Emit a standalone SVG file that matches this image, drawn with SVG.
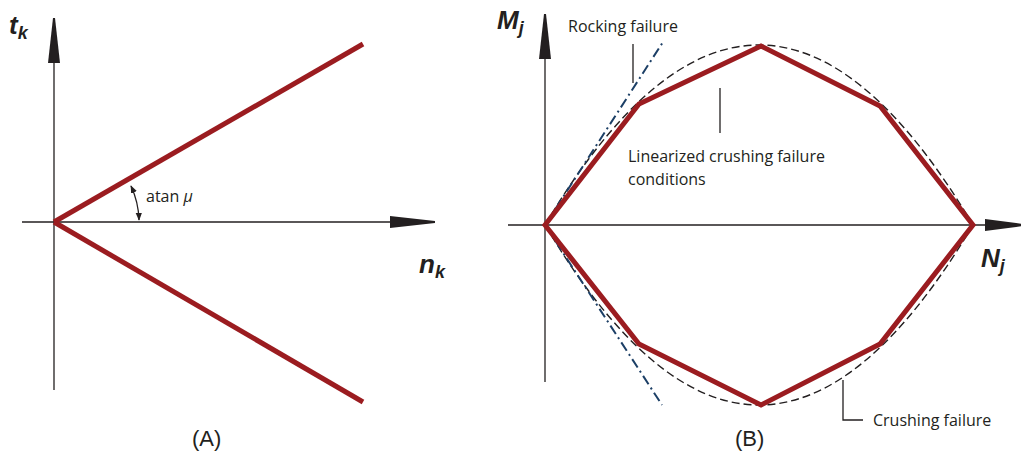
<svg xmlns="http://www.w3.org/2000/svg" width="1021" height="457" viewBox="0 0 1021 457">
<style>
.ax{stroke:#231f20;stroke-width:1.3;fill:none}
.red{stroke:#9b1c20;stroke-width:5;fill:none;stroke-linejoin:miter}
.dash{stroke:#231f20;stroke-width:1.4;fill:none;stroke-dasharray:8 4}
.dd{stroke:#1c3f66;stroke-width:2;fill:none;stroke-dasharray:10 4 2 4}
.lead{stroke:#231f20;stroke-width:1.3;fill:none}
.lbl{font-family:"Liberation Sans",Arial,sans-serif;font-weight:bold;font-style:italic;fill:#231f20}
.txt{font-family:"Open Sans","Noto Sans",sans-serif;font-size:16px;fill:#231f20}
.cap{font-family:"Liberation Sans",Arial,sans-serif;font-size:22px;fill:#231f20}
</style>
<defs>
<marker id="ah" viewBox="0 0 10 10" refX="9" refY="5" markerWidth="6" markerHeight="6" orient="auto-start-reverse">
<path d="M0,1 L10,5 L0,9 Z" fill="#231f20"/>
</marker>
</defs>
<g id="panelA">
<g id="axesA">
<line class="ax" x1="54" y1="390" x2="54" y2="60"/>
<polygon points="48,63 60,63 55,18 53,18" fill="#231f20"/>
<line class="ax" x1="22" y1="222" x2="392" y2="222"/>
<polygon points="390,216 390,228 435,223 435,221" fill="#231f20"/>
</g>
<g id="linesA">
<line class="red" x1="54" y1="222" x2="363" y2="44"/>
<line class="red" x1="54" y1="222" x2="363" y2="402"/>
</g>
<g id="angleA">
<path d="M131,186 A86,86 0 0 1 139,220" class="ax" stroke-width="1" marker-start="url(#ah)" marker-end="url(#ah)"/>
<text class="txt" x="146" y="202" font-size="15">atan <tspan font-style="italic">μ</tspan></text>
</g>
<text class="lbl" x="9" y="34" font-size="26">t<tspan font-size="18" dy="5">k</tspan></text>
<text class="lbl" x="419" y="273" font-size="26">n<tspan font-size="18" dy="5">k</tspan></text>
<text class="cap" x="192" y="446">(A)</text>
</g>
<g id="panelB">
<g id="axesB">
<line class="ax" x1="545" y1="382" x2="545" y2="56"/>
<polygon points="539,59 551,59 546,14 544,14" fill="#231f20"/>
<line class="ax" x1="508" y1="225" x2="988" y2="225"/>
<polygon points="985,219 985,231 1023,226 1023,224" fill="#231f20"/>
</g>
<g id="crushing">
<path class="dash" d="M545,225 Q759,-135 973,225"/>
<path class="dash" d="M545,225 Q759,585 973,225"/>
</g>
<g id="rocking">
<line class="dd" x1="545" y1="225" x2="663" y2="42"/>
<line class="dd" x1="545" y1="225" x2="662" y2="405"/>
</g>
<g id="linearized">
<polygon class="red" points="545,225 639,104 761,46 880,106 973,225 880,344 761,405 639,344"/>
</g>
<g id="leaders">
<line class="lead" x1="633" y1="44" x2="633" y2="83"/>
<line class="lead" x1="720" y1="88" x2="720" y2="133"/>
<polyline class="lead" points="843,380 843,420 863,420"/>
</g>
<text class="txt" x="568" y="32">Rocking failure</text>
<text class="txt" x="628" y="162">Linearized crushing failure</text>
<text class="txt" x="628" y="185">conditions</text>
<text class="txt" x="873" y="426">Crushing failure</text>
<text class="lbl" x="497" y="29" font-size="26">M<tspan font-size="18" dy="5">j</tspan></text>
<text class="lbl" x="981" y="267" font-size="26">N<tspan font-size="18" dy="5">j</tspan></text>
<text class="cap" x="735" y="446">(B)</text>
</g>
</svg>
